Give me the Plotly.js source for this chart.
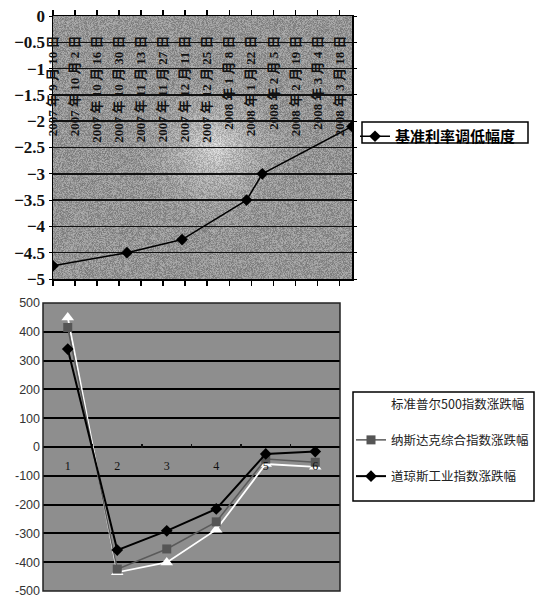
<!DOCTYPE html>
<html>
<head>
<meta charset="utf-8">
<script src="https://cdn.plot.ly/plotly-3.0.1.min.js"></script>
<style>html,body{margin:0;padding:0;background:#fff;}#chart{width:539px;height:610px;}</style>
</head>
<body>
<div id="chart"></div>
<script>
// ---------- data: top chart ----------
const rateTickDates = ['2007-09-10','2007-09-24','2007-10-08','2007-10-22','2007-11-05','2007-11-19','2007-12-03','2007-12-17','2007-12-31','2008-01-14','2008-01-28','2008-02-11','2008-02-25','2008-03-10'];
const rateTickLabels = ['2007 年 9 月 10 日','2007 年 10 月 2 日','2007 年 10 月 16 日','2007 年 10 月 30 日','2007 年 11 月 13 日','2007 年 11 月 27 日','2007 年 12 月 11 日','2007 年 12 月 25 日','2008 年 1 月 8 日','2008 年 1 月 22 日','2008 年 2 月 5 日','2008 年 2 月 19 日','2008 年 3 月 4 日','2008 年 3 月 18 日'];
const rateDates = ['2007-09-10','2007-10-27','2007-12-01','2008-01-11','2008-01-21','2008-03-18'];
const rateCuts = [-4.75, -4.5, -4.25, -3.5, -3.0, -2.1];
const rateName = '基准利率调低幅度';
const rateYTicks = [0,-0.5,-1,-1.5,-2,-2.5,-3,-3.5,-4,-4.5,-5];
const rateYLabels = ['0','−0.5','−1','−1.5','−2','−2.5','−3','−3.5','−4','−4.5','−5'];

// ---------- data: bottom chart ----------
const periods = ['1','2','3','4','5','6'];
const sp500 = [450, -435, -401, -287, -59, -69];
const nasdaq = [415, -424, -354, -260, -42, -53];
const dow = [340, -358, -291, -215, -24, -16];
const sp500Name = '标准普尔500指数涨跌幅';
const nasdaqName = '纳斯达克综合指数涨跌幅';
const dowName = '道琼斯工业指数涨跌幅';
const idxYTicks = [500,400,300,200,100,0,-100,-200,-300,-400,-500];
const idxYLabels = ['500','400','300','200','100','0','-100','-200','-300','-400','-500'];

// ---------- background texture for top plot ----------
function makeTexture(w, h){
  const c = document.createElement('canvas');
  c.width = w; c.height = h;
  const ctx = c.getContext('2d');
  const img = ctx.createImageData(w, h);
  const cx = w*0.54, cy = h*0.5, R = 90;
  for (let y=0; y<h; y++){
    for (let x=0; x<w; x++){
      const i = y*w + x;
      let s = Math.sin(i*12.9898 + 78.233)*43758.5453; s = s - Math.floor(s);
      const d = Math.sqrt((x-cx)*(x-cx) + (y-cy)*(y-cy));
      const glow = Math.max(0, 1 - d/R);
      let v = 148 + 60*glow*glow + (s-0.5)*55;
      v = Math.max(0, Math.min(255, v));
      img.data[i*4] = v; img.data[i*4+1] = v; img.data[i*4+2] = v; img.data[i*4+3] = 255;
    }
  }
  ctx.putImageData(img, 0, 0);
  return c.toDataURL('image/png');
}
const tex = makeTexture(299, 263);

const W = 539, H = 610;
const px = v => v / W;
const py = v => 1 - v / H;

const serif = 'Liberation Serif, "Noto Sans CJK SC", serif';
const cjk = '"Noto Sans CJK SC", sans-serif';

const traces = [
  {
    // carrier for the label axis (no marks)
    x: [], y: [], type: 'scatter', mode: 'markers', xaxis: 'x3', yaxis: 'y',
    showlegend: false, hoverinfo: 'skip'
  },
  {
    x: rateDates, y: rateCuts, name: rateName, type: 'scatter', mode: 'lines+markers',
    xaxis: 'x', yaxis: 'y', legend: 'legend',
    line: {color: '#000', width: 1.5},
    marker: {symbol: 'diamond', size: 9, color: '#000'}
  },
  {
    x: periods, y: sp500, name: sp500Name, type: 'scatter', mode: 'lines+markers',
    xaxis: 'x2', yaxis: 'y2', legend: 'legend2', legendgroup: 'a',
    line: {color: '#fff', width: 1.8},
    marker: {symbol: 'triangle-up', size: 11, color: '#fff'}
  },
  {
    x: periods, y: nasdaq, name: nasdaqName, type: 'scatter', mode: 'lines+markers',
    xaxis: 'x2', yaxis: 'y2', legend: 'legend2', legendgroup: 'b',
    line: {color: '#5a5a5a', width: 1.5},
    marker: {symbol: 'square', size: 9, color: '#555'}
  },
  {
    x: periods, y: dow, name: dowName, type: 'scatter', mode: 'lines+markers',
    xaxis: 'x2', yaxis: 'y2', legend: 'legend2', legendgroup: 'c',
    line: {color: '#000', width: 2},
    marker: {symbol: 'diamond', size: 9, color: '#000'}
  }
];

const layout = {
  width: W, height: H,
  margin: {l: 0, r: 0, t: 0, b: 0},
  paper_bgcolor: '#fff',
  plot_bgcolor: '#949494',
  showlegend: true,
  xaxis: {
    domain: [px(53), px(352)],
    anchor: 'y', side: 'top', type: 'date',
    range: ['2007-09-10', '2008-03-18'],
    tickmode: 'array', tickvals: rateTickDates, ticktext: rateTickLabels,
    showticklabels: false,
    ticks: 'outside', ticklen: 5, tickcolor: '#000', tickwidth: 1.5,
    showline: true, linecolor: '#000', linewidth: 1.5, mirror: 'all',
    showgrid: false, zeroline: false
  },
  xaxis3: {
    overlaying: 'x', anchor: 'free', position: py(16), side: 'bottom', type: 'date',
    range: ['2007-09-10', '2008-03-18'],
    tickmode: 'array', tickvals: rateTickDates, ticktext: rateTickLabels,
    tickangle: -90,
    tickfont: {family: serif, size: 13, color: '#111', weight: 'bold'},
    ticks: '', ticklabelstandoff: 16,
    showline: false, showgrid: false, zeroline: false
  },
  yaxis: {
    domain: [py(279), py(16)],
    anchor: 'x', range: [-5, 0],
    tickmode: 'array', tickvals: rateYTicks, ticktext: rateYLabels,
    tickfont: {family: serif, size: 17, color: '#111', weight: 'bold'},
    ticks: 'outside', ticklen: 3, tickcolor: '#000',
    showline: true, linecolor: '#000', linewidth: 1.5, mirror: 'all',
    showgrid: true, gridcolor: '#111', gridwidth: 1.5, zeroline: false
  },
  xaxis2: {
    domain: [px(43), px(340)],
    anchor: 'free', position: py(448), type: 'category',
    range: [-0.5, 5.5],
    tickson: 'boundaries', ticks: 'inside', ticklen: 4, tickcolor: '#111', tickwidth: 1.5,
    tickfont: {family: serif, size: 12, color: '#111'},
    ticklabelstandoff: 9,
    showline: false, showgrid: false, zeroline: false
  },
  yaxis2: {
    domain: [py(591), py(303)],
    anchor: 'x2', range: [-500, 500],
    tickmode: 'array', tickvals: idxYTicks, ticktext: idxYLabels,
    tickfont: {family: 'Liberation Sans, sans-serif', size: 12.5, color: '#333'},
    ticks: '', ticklabelstandoff: 2,
    showline: false, showgrid: true, gridcolor: '#000', gridwidth: 2, zeroline: false
  },
  legend: {
    x: px(355), y: py(120), xanchor: 'left', yanchor: 'top',
    bgcolor: 'rgba(0,0,0,0)', borderwidth: 0,
    font: {family: cjk, size: 15, color: '#000', weight: 'bold'}
  },
  legend2: {
    x: px(351), y: py(389), xanchor: 'left', yanchor: 'top',
    bgcolor: 'rgba(0,0,0,0)', borderwidth: 0,
    traceorder: 'grouped', tracegroupgap: 17,
    font: {family: cjk, size: 12.5, color: '#222'}
  },
  images: [{
    source: tex, xref: 'x domain', yref: 'y domain', x: 0, y: 1, sizex: 1, sizey: 1,
    xanchor: 'left', yanchor: 'top', sizing: 'stretch', layer: 'below'
  }],
  shapes: [
    {type: 'rect', xref: 'x2 domain', yref: 'y2 domain', x0: 0, x1: 1, y0: 0, y1: 1,
     fillcolor: '#8e8e8e', line: {width: 0}, layer: 'below'},
    {type: 'rect', xref: 'x2 domain', yref: 'y2 domain', x0: 0, x1: 1, y0: 0, y1: 1,
     fillcolor: 'rgba(0,0,0,0)', line: {color: '#222', width: 1.5}, layer: 'above'},
    {type: 'rect', xref: 'paper', yref: 'paper', x0: px(362), x1: px(528), y0: py(143), y1: py(122),
     fillcolor: 'rgba(0,0,0,0)', line: {color: '#000', width: 1.5}},
    {type: 'rect', xref: 'paper', yref: 'paper', x0: px(353), x1: px(534), y0: py(501), y1: py(392),
     fillcolor: 'rgba(0,0,0,0)', line: {color: '#000', width: 1.5}}
  ]
};

Plotly.newPlot('chart', traces, layout, {displayModeBar: false, staticPlot: true});
</script>
</body>
</html>
